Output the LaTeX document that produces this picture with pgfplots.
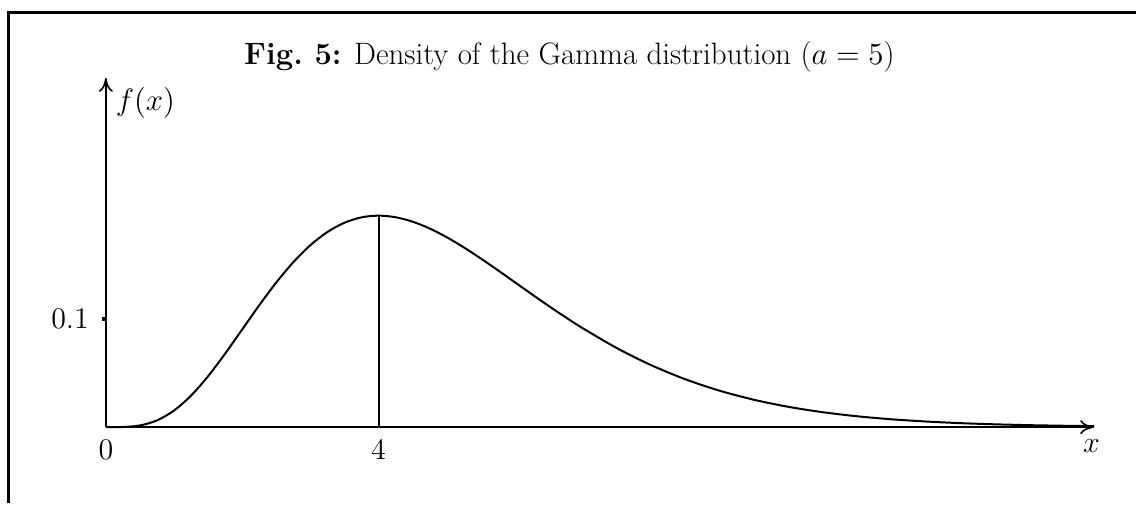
\RequirePackage{fix-cm}
\documentclass[border=0pt]{standalone}
\usepackage{pgfplots}
\pgfplotsset{compat=1.18}
\usetikzlibrary{arrows.meta}

% Gamma density with shape a = 5: f(x) = x^4 e^{-x} / 4!
\pgfplotstableread{
x      f
0      0
0.25   0.000127
0.5    0.001580
0.75   0.006228
1      0.015328
1.25   0.029145
1.5    0.047067
1.75   0.067909
2      0.090224
2.25   0.112553
2.5    0.133602
2.75   0.152339
3      0.168031
3.25   0.180245
3.5    0.188812
3.75   0.193782
4      0.195367
4.25   0.193904
4.5    0.189808
4.75   0.183512
5      0.175467
5.25   0.166103
5.5    0.155820
5.75   0.144967
6      0.133853
6.25   0.122738
6.5    0.111819
6.75   0.101280
7      0.091226
7.5    0.072915
8      0.057252
8.5    0.044255
9      0.033737
9.5    0.025403
10     0.018917
10.5   0.013946
11     0.010189
11.5   0.007382
12     0.005309
12.5   0.003791
13     0.002690
13.5   0.001897
14     0.001331
14.5   0.000929
}\gammadens

\begin{document}
\begin{tikzpicture}
\begin{axis}[
  x=34.125pt, y=542pt,
  xmin=0, xmax=14.5, ymin=0, ymax=0.3226,
  axis lines=left,
  axis line style={line width=0.8pt, -{To[length=7pt,width=7pt]}},
  clip=false,
  xtick={0,4}, xticklabels={$0$,$4$},
  ytick={0.1}, yticklabels={$0.1$},
  major x tick style={draw=none},
  major y tick style={black, line width=2.2pt},
  tick align=outside,
  major tick length=2pt,
  every tick label/.append style={font=\fontsize{15}{18}\selectfont},
  xticklabel style={yshift=-1pt},
  yticklabel style={xshift=-3pt},
]
  \addplot[black, line width=1pt, smooth, mark=none] table[x=x, y=f] {\gammadens};
  % mode of the density
  \addplot[black, line width=1pt, mark=none] coordinates {(4,0) (4,0.195367)};

  \node[font=\fontsize{15.5}{18}\selectfont] at (axis cs:0.58,0.2995) {$f(x)$};
  \node[font=\fontsize{15}{18}\selectfont] at (axis cs:14.46,-0.0178) {$x$};
  \node[font=\fontsize{15.5}{19}\selectfont] at (axis cs:6.80,0.342)
    {\textbf{Fig.\ 5:} Density of the Gamma distribution ($a=5$)};

  \coordinate (fbl) at (axis cs:-1.4212,-0.07039);
  \coordinate (ftr) at (axis cs:15.106,0.38256);
  \coordinate (sw) at (axis cs:-1.5531,-0.07039);
  \coordinate (ne) at (axis cs:15.106,0.39456);
\end{axis}
\pgfresetboundingbox
\path (sw) rectangle (ne);
% framing rule along the top and left
\draw[line width=1.5pt] (fbl) |- (ftr);
\end{tikzpicture}
\end{document}
